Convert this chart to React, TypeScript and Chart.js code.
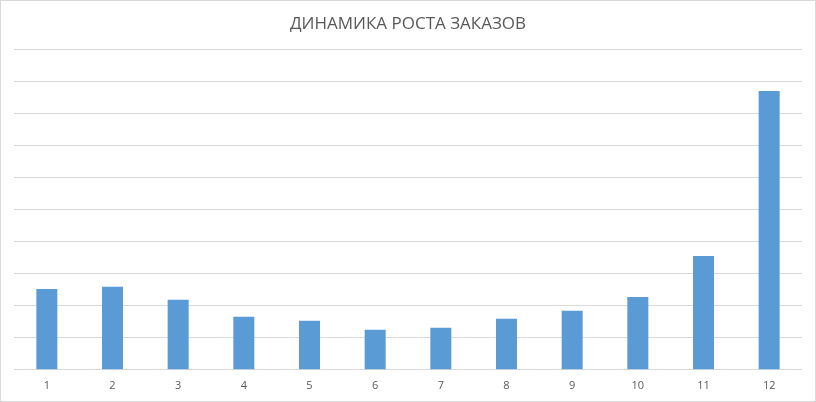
import React, { useEffect, useRef } from "react";
import { Chart, registerables } from "chart.js";

Chart.register(...registerables);

const title = "ДИНАМИКА РОСТА ЗАКАЗОВ";
const categories = ["1", "2", "3", "4", "5", "6", "7", "8", "9", "10", "11", "12"];
const orders = [2.52, 2.59, 2.18, 1.65, 1.53, 1.25, 1.31, 1.59, 1.84, 2.27, 3.55, 8.69];

const borderPlugin = {
  id: "outerBorder",
  afterDraw(chart: any) {
    const ctx = chart.ctx;
    ctx.save();
    ctx.strokeStyle = "#d9d9d9";
    ctx.lineWidth = 1;
    ctx.strokeRect(0.5, 0.5, chart.width - 1, chart.height - 1);
    ctx.restore();
  },
};

export default function App() {
  const ref = useRef<HTMLCanvasElement | null>(null);
  useEffect(() => {
    document.body.style.margin = "0";
    const canvas = ref.current;
    if (!canvas) return;
    const chart = new Chart(canvas, {
      type: "bar",
      data: {
        labels: categories,
        datasets: [
          {
            data: orders,
            backgroundColor: "#5B9BD5",
            categoryPercentage: 1,
            barPercentage: 0.32,
          },
        ],
      },
      plugins: [borderPlugin],
      options: {
        responsive: false,
        animation: false,
        devicePixelRatio: 1,
        layout: { padding: { left: 14, right: 14, top: 0, bottom: 9 } },
        plugins: {
          legend: { display: false },
          tooltip: { enabled: false },
          title: {
            display: true,
            text: title,
            color: "#595959",
            font: { family: "'Open Sans', sans-serif", size: 17, weight: "normal" },
            padding: { top: 13.5, bottom: 15.1 },
          },
        },
        scales: {
          x: {
            grid: { display: false },
            border: { display: false },
            ticks: {
              color: "#595959",
              font: { family: "'Open Sans', sans-serif", size: 11 },
              padding: 1,
              maxRotation: 0,
            },
          },
          y: {
            min: 0,
            max: 10,
            ticks: { display: false, stepSize: 1 },
            border: { display: false },
            grid: { color: "#d9d9d9", lineWidth: 1, drawTicks: false },
          },
        },
      },
    });
    return () => chart.destroy();
  }, []);
  return <canvas ref={ref} width={816} height={402} style={{ display: "block" }} />;
}
